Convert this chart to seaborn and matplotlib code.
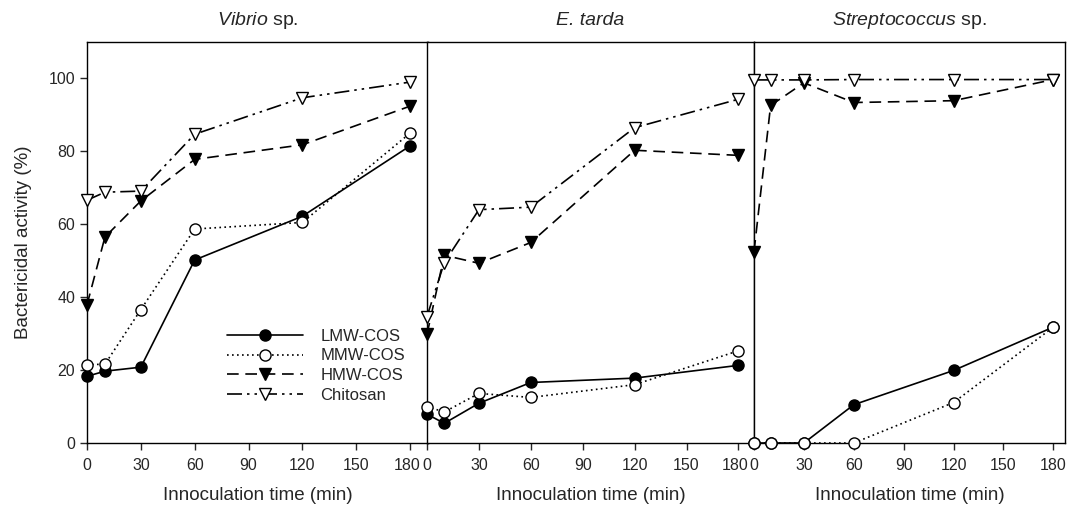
import numpy as np
import pandas as pd
import matplotlib
matplotlib.use("Agg")
import matplotlib.pyplot as plt
import matplotlib.transforms as mtransforms
import seaborn as sns

sns.set_style("ticks")
plt.rcParams['font.family'] = ['Liberation Sans', 'DejaVu Sans']
plt.rcParams['mathtext.fontset'] = 'custom'
plt.rcParams['mathtext.rm'] = 'Liberation Sans'
plt.rcParams['mathtext.it'] = 'Liberation Sans:italic'

# Data
times = [0, 10, 30, 60, 120, 180]
bacteria = ["Vibrio", "E. tarda", "Streptococcus"]
samples = ["LMW-COS", "MMW-COS", "HMW-COS", "Chitosan"]

vibrio_lmw = [18.3, 19.7, 20.8, 50.2, 62.2, 81.5]
vibrio_mmw = [21.5, 21.6, 36.6, 58.7, 60.5, 85.0]
vibrio_hmw = [37.9, 56.5, 66.4, 77.8, 81.8, 92.4]
vibrio_chi = [66.6, 68.8, 69.1, 84.7, 94.7, 99.0]

tarda_lmw = [7.9, 5.4, 10.9, 16.6, 17.8, 21.3]
tarda_mmw = [10.0, 8.5, 13.6, 12.5, 16.0, 25.3]
tarda_hmw = [29.8, 51.5, 49.3, 55.0, 80.3, 78.9]
tarda_chi = [34.7, 49.5, 64.0, 64.7, 86.5, 94.3]

strep_lmw = [0, 0, 0, 10.5, 19.9, 31.8]
strep_mmw = [0, 0, 0, 0, 11.1, 31.8]
strep_hmw = [52.5, 92.6, 98.8, 93.4, 93.9, 99.7]
strep_chi = [99.6, 99.6, 99.6, 99.7, 99.7, 99.7]

values = {
    "Vibrio": [vibrio_lmw, vibrio_mmw, vibrio_hmw, vibrio_chi],
    "E. tarda": [tarda_lmw, tarda_mmw, tarda_hmw, tarda_chi],
    "Streptococcus": [strep_lmw, strep_mmw, strep_hmw, strep_chi],
}

rows = []
for b in bacteria:
    for s, vals in zip(samples, values[b]):
        for t, v in zip(times, vals):
            rows.append({"bacteria": b, "sample": s, "time": t, "activity": v})
df = pd.DataFrame(rows)

# line / marker styles per sample
styles = {
    "LMW-COS": dict(marker="o", markerfacecolor="black", linestyle="-"),
    "MMW-COS": dict(marker="o", markerfacecolor="white", linestyle=(0, (1, 2))),
    "HMW-COS": dict(marker="v", markerfacecolor="black", linestyle=(0, (7, 4))),
    "Chitosan": dict(marker="v", markerfacecolor="white", linestyle=(0, (9, 3, 1.5, 3, 1.5, 3))),
}

fig = plt.figure(figsize=(10.67, 5.16), dpi=100)
bottom = 73 / 516
height = 401 / 516
panels = [(87, 341, 190), (427, 327, 189), (754, 311, 187)]
titles = [
    (r"$\mathit{Vibrio}$ sp.", "normal"),
    ("E. tarda", "italic"),
    (r"$\mathit{Streptococcus}$ sp.", "normal"),
]

axes = []
for i, (b, (left, width, xmax)) in enumerate(zip(bacteria, panels)):
    ax = fig.add_axes([left / 1067, bottom, width / 1067, height])
    sub = df[df["bacteria"] == b]
    for s in samples:
        d = sub[sub["sample"] == s]
        st = styles[s]
        sns.lineplot(x=d["time"], y=d["activity"], ax=ax, color="black",
                     linewidth=1.2, markersize=8, markeredgecolor="black",
                     markeredgewidth=1.0, clip_on=False, label=s,
                     legend=False, zorder=3, **st)
    ax.set_xlim(0, xmax)
    ax.set_ylim(0, 110)
    ax.set_xticks([0, 30, 60, 90, 120, 150, 180])
    ax.tick_params(axis="x", direction="out", length=5, width=1,
                   labelsize=11.5, pad=6)
    if i == 0:
        ax.set_yticks([0, 20, 40, 60, 80, 100])
        ax.tick_params(axis="y", direction="out", length=5, width=1,
                       labelsize=11.5)
        ax.set_ylabel("Bactericidal activity (%)", fontsize=13.5, labelpad=12)
    else:
        ax.set_yticks([])
        ax.set_ylabel("")
    ax.set_xlabel("Innoculation time (min)", fontsize=13.5, labelpad=10)
    ax.set_title(titles[i][0], fontsize=14, pad=12, fontstyle=titles[i][1])
    for sp in ax.spines.values():
        sp.set_visible(True)
        sp.set_linewidth(1.0)
        sp.set_color("black")
    # nudge the last tick label so "180" and the next panel's "0" just touch
    if i < 2:
        last = ax.get_xticklabels()[-1]
        last.set_transform(last.get_transform() +
                           mtransforms.ScaledTranslation(-3 / 100, 0, fig.dpi_scale_trans))
    axes.append(ax)

handles, labels = axes[0].get_legend_handles_labels()
axes[0].legend(handles, labels, loc="upper left", bbox_to_anchor=(0.41, 0.285),
               frameon=False, handlelength=4.6, fontsize=12,
               labelspacing=0.28, borderaxespad=0, borderpad=0,
               handletextpad=1.0)

fig.savefig("out.png", dpi=100)
